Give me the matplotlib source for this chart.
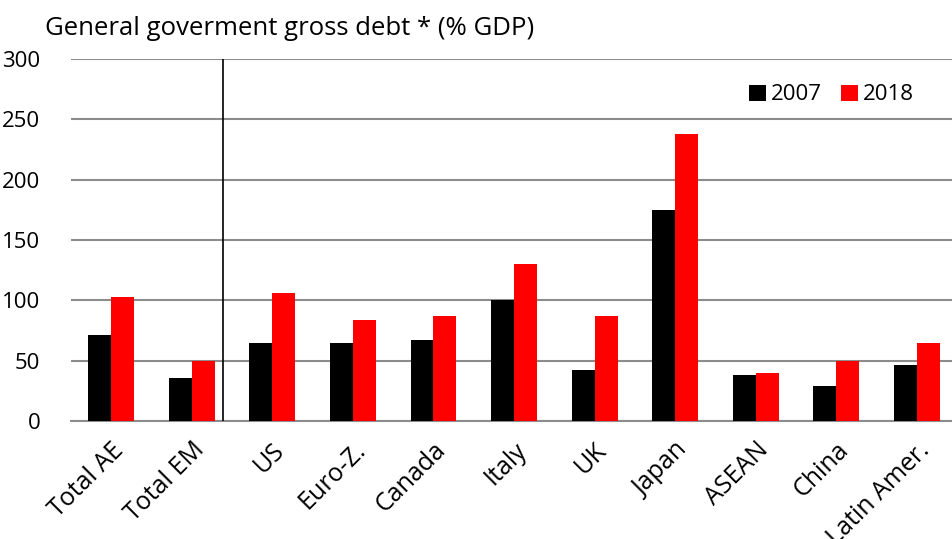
import numpy as np
import matplotlib.pyplot as plt

# General government gross debt, % of GDP
regions = ["Total AE", "Total EM", "US", "Euro-Z.", "Canada", "Italy",
           "UK", "Japan", "ASEAN", "China", "Latin Amer."]
debt_2007 = [71, 36, 65, 65, 67, 100, 42, 175, 38, 29, 46]
debt_2018 = [103, 50, 106, 84, 87, 130, 87, 238, 40, 50, 65]
yticks = [0, 50, 100, 150, 200, 250, 300]

plt.rcParams['font.family'] = ['Open Sans', 'DejaVu Sans']

fig = plt.figure(figsize=(9.53, 5.39), dpi=100)
ax = fig.add_axes([0.0745, 0.219, 0.9255, 0.6715])

x = np.arange(len(regions))
w = 0.285
ax.bar(x - w/2, debt_2007, w, color='black', label='2007', zorder=3)
ax.bar(x + w/2, debt_2018, w, color='#ff0000', label='2018', zorder=3)

ax.set_ylim(0, 300)
ax.set_xlim(-0.5, 10.45)
ax.set_yticks(yticks)
ax.yaxis.grid(True, color='#8c8c8c', linewidth=1.5, zorder=0)
ax.set_axisbelow(True)
ax.tick_params(axis='y', length=0, pad=22, labelsize=16)
ax.tick_params(axis='x', length=0, pad=12, labelsize=18)
ax.set_xticks(x)
ax.set_xticklabels(regions, rotation=45, ha='right', rotation_mode='anchor')
for s in ['left', 'right', 'top']:
    ax.spines[s].set_visible(False)
ax.spines['bottom'].set_color('#8c8c8c')
ax.spines['bottom'].set_linewidth(1.5)

# separator between aggregates and countries
ax.axvline(1.39, color='black', linewidth=1.2, zorder=4)

ax.legend(loc='upper right', bbox_to_anchor=(0.978, 0.985), ncol=2, frameon=False,
          fontsize=16, handlelength=0.75, handleheight=0.75, handletextpad=0.2,
          columnspacing=0.9)

fig.text(0.047, 0.948, "General goverment gross debt * (% GDP)", fontsize=18.5,
         va='center', ha='left')

fig.savefig("out.png", dpi=100)
